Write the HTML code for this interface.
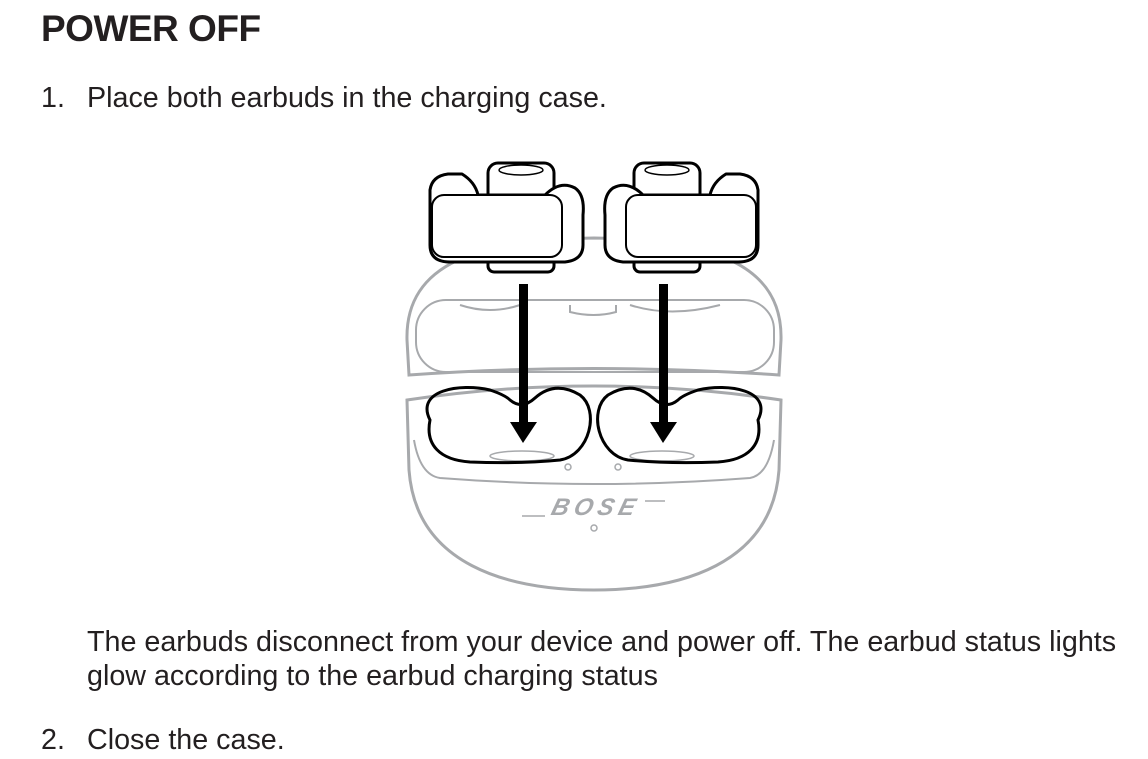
<!DOCTYPE html>
<html><head><meta charset="utf-8"><style>
body{margin:0;width:1148px;height:759px;background:#fff;position:relative;overflow:hidden;font-family:"Liberation Sans",sans-serif;color:#231f20}
.t{position:absolute;white-space:nowrap;font-size:28.7px;line-height:1}
h1{position:absolute;left:41px;top:8px;margin:0;font-size:37px;font-weight:bold;letter-spacing:-0.5px}
</style></head><body>
<h1>POWER OFF</h1>
<div class="t" style="left:41px;top:84px">1.</div>
<div class="t" style="left:87px;top:84px">Place both earbuds in the charging case.</div>
<div class="t" style="left:87px;top:628px">The earbuds disconnect from your device and power off. The earbud status lights</div>
<div class="t" style="left:87px;top:662px">glow according to the earbud charging status</div>
<div class="t" style="left:41px;top:726px">2.</div>
<div class="t" style="left:87px;top:726px">Close the case.</div>
<svg style="position:absolute;left:0;top:0" width="1148" height="759">
<g fill="none" stroke="#a7a9ac" stroke-width="3">
<path d="M407 340 C405 262 480 240 594 238 C708 240 783 262 781 340 L779 375 Q594 362 409 375 Z"/>
<rect x="416" y="300" width="358" height="72" rx="30" stroke-width="2"/>
<path d="M460 305 Q490 315 520 305 M570 305 L570 312 Q594 318 616 312 L616 305 M630 305 Q670 318 720 305" stroke-width="2"/>
<path d="M407 400 Q594 372 781 400 L779 470 C772 565 680 590 594 590 C508 590 416 565 409 470 Z"/>
<path d="M414 440 Q420 475 440 478 Q594 490 750 478 Q768 475 774 440" stroke-width="2"/>
<circle cx="568" cy="467" r="3" stroke-width="1.5"/><circle cx="618" cy="467" r="3" stroke-width="1.5"/>
<circle cx="594" cy="528" r="3" stroke-width="1.5"/>
<ellipse cx="522" cy="456" rx="32" ry="5" stroke-width="1.5"/><ellipse cx="662" cy="456" rx="32" ry="5" stroke-width="1.5"/>
<line x1="522" y1="516" x2="545" y2="516" stroke-width="1.5"/><line x1="645" y1="501" x2="665" y2="501" stroke-width="1.5"/>
</g>
<text x="594" y="515" text-anchor="middle" font-family="Liberation Sans" font-weight="bold" font-style="italic" font-size="24" fill="#a7a9ac" letter-spacing="5" transform="skewX(-15) translate(138,0)">BOSE</text>
<g fill="none" stroke="#000" stroke-width="3">
<path d="M430 420 C415 390 460 383 490 390 Q505 395 510 400 Q522 410 535 398 Q555 380 580 395 C600 410 590 455 560 460 Q520 464 470 462 C440 460 425 445 430 420 Z"/>
<path d="M758 420 C773 390 728 383 698 390 Q683 395 678 400 Q666 410 653 398 Q633 380 608 395 C588 410 598 455 628 460 Q668 464 718 462 C748 460 763 445 758 420 Z"/>
</g>
<g fill="#000">
<rect x="519" y="284" width="9" height="142"/><polygon points="510,422 537,422 523,443"/>
<rect x="659" y="284" width="9" height="142"/><polygon points="650,422 677,422 663,443"/>
</g>
<g fill="#fff" stroke="#000" stroke-width="3" stroke-linejoin="round">
<rect x="488" y="245" width="66" height="27" rx="6"/>
<rect x="488" y="163" width="66" height="40" rx="10"/>
<path d="M430 190 Q432 176 448 174 L462 174 Q475 182 478 195 L545 195 Q560 180 575 188 Q585 195 583 215 L583 245 Q583 260 565 262 L450 262 Q430 262 430 245 Z"/>
<rect x="432" y="195" width="130" height="62" rx="12" stroke-width="2"/>
<rect x="634" y="245" width="66" height="27" rx="6"/>
<rect x="634" y="163" width="66" height="40" rx="10"/>
<path d="M758 190 Q756 176 740 174 L726 174 Q713 182 710 195 L643 195 Q628 180 613 188 Q603 195 605 215 L605 245 Q605 260 623 262 L738 262 Q758 262 758 245 Z"/>
<rect x="626" y="195" width="130" height="62" rx="12" stroke-width="2"/>
<ellipse cx="521" cy="170" rx="22" ry="5" stroke-width="1.5"/><ellipse cx="667" cy="170" rx="22" ry="5" stroke-width="1.5"/>
</g>
</svg>
</body></html>
